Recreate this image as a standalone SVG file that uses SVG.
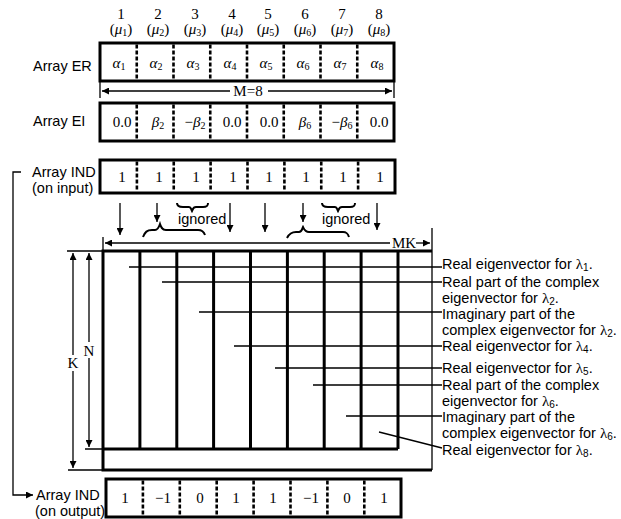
<svg xmlns="http://www.w3.org/2000/svg" width="621" height="519" viewBox="0 0 621 519">
<style>
.lab{font-family:"Liberation Sans",Arial,sans-serif;font-size:14.5px;fill:#000}
.ser{font-family:"Liberation Serif","Times New Roman",serif;font-size:15px;fill:#000}
.it{font-style:italic}
.box{fill:none;stroke:#000;stroke-width:3}
.div{stroke:#000;stroke-width:2.6;stroke-dasharray:4 2}
.thin{fill:none;stroke:#000;stroke-width:1.3}
.thick{fill:none;stroke:#000;stroke-width:3}
.brace{fill:none;stroke:#000;stroke-width:2}
</style>
<defs>
<marker id="ah" viewBox="0 0 10 10" refX="10" refY="5" markerWidth="7" markerHeight="7" markerUnits="userSpaceOnUse" orient="auto"><path d="M0,0 L10,5 L0,10 z" fill="#000"/></marker>
</defs>

<g id="headers" class="ser" text-anchor="middle">
<text x="121" y="19">1</text><text x="158" y="19">2</text><text x="195" y="19">3</text><text x="232" y="19">4</text>
<text x="268" y="19">5</text><text x="305" y="19">6</text><text x="342" y="19">7</text><text x="379" y="19">8</text>
<text x="121" y="34">(<tspan class="it">μ</tspan><tspan font-size="10" dy="2">1</tspan><tspan dy="-2">)</tspan></text>
<text x="158" y="34">(<tspan class="it">μ</tspan><tspan font-size="10" dy="2">2</tspan><tspan dy="-2">)</tspan></text>
<text x="195" y="34">(<tspan class="it">μ</tspan><tspan font-size="10" dy="2">3</tspan><tspan dy="-2">)</tspan></text>
<text x="232" y="34">(<tspan class="it">μ</tspan><tspan font-size="10" dy="2">4</tspan><tspan dy="-2">)</tspan></text>
<text x="268" y="34">(<tspan class="it">μ</tspan><tspan font-size="10" dy="2">5</tspan><tspan dy="-2">)</tspan></text>
<text x="305" y="34">(<tspan class="it">μ</tspan><tspan font-size="10" dy="2">6</tspan><tspan dy="-2">)</tspan></text>
<text x="342" y="34">(<tspan class="it">μ</tspan><tspan font-size="10" dy="2">7</tspan><tspan dy="-2">)</tspan></text>
<text x="379" y="34">(<tspan class="it">μ</tspan><tspan font-size="10" dy="2">8</tspan><tspan dy="-2">)</tspan></text>
</g>

<g id="array-er">
<text class="lab" x="33" y="71">Array ER</text>
<rect class="box" x="100" y="43" width="294" height="38"/>
<path class="div" d="M136.75,44.5V79.5M173.5,44.5V79.5M210.25,44.5V79.5M247,44.5V79.5M283.75,44.5V79.5M320.5,44.5V79.5M357.25,44.5V79.5"/>
<g class="ser" text-anchor="middle">
<text x="119" y="68"><tspan class="it">α</tspan><tspan font-size="10" dy="2">1</tspan></text>
<text x="156" y="68"><tspan class="it">α</tspan><tspan font-size="10" dy="2">2</tspan></text>
<text x="193" y="68"><tspan class="it">α</tspan><tspan font-size="10" dy="2">3</tspan></text>
<text x="230" y="68"><tspan class="it">α</tspan><tspan font-size="10" dy="2">4</tspan></text>
<text x="266" y="68"><tspan class="it">α</tspan><tspan font-size="10" dy="2">5</tspan></text>
<text x="303" y="68"><tspan class="it">α</tspan><tspan font-size="10" dy="2">6</tspan></text>
<text x="340" y="68"><tspan class="it">α</tspan><tspan font-size="10" dy="2">7</tspan></text>
<text x="377" y="68"><tspan class="it">α</tspan><tspan font-size="10" dy="2">8</tspan></text>
</g>
</g>

<g id="dim-m">
<path class="thin" d="M100,82V98M394,82V98"/>
<path class="thin" d="M230,91H102" marker-end="url(#ah)"/>
<path class="thin" d="M268,91H392" marker-end="url(#ah)"/>
<text class="ser" x="248" y="96" text-anchor="middle">M=8</text>
</g>

<g id="array-ei">
<text class="lab" x="33" y="126">Array EI</text>
<rect class="box" x="100" y="103" width="294" height="38"/>
<path class="div" d="M136.75,104.5V139.5M173.5,104.5V139.5M210.25,104.5V139.5M247,104.5V139.5M283.75,104.5V139.5M320.5,104.5V139.5M357.25,104.5V139.5"/>
<g class="ser" text-anchor="middle">
<text x="122" y="127">0.0</text>
<text x="158" y="127"><tspan class="it">β</tspan><tspan font-size="10" dy="2">2</tspan></text>
<text x="195" y="127">−<tspan class="it">β</tspan><tspan font-size="10" dy="2">2</tspan></text>
<text x="232" y="127">0.0</text>
<text x="269" y="127">0.0</text>
<text x="305" y="127"><tspan class="it">β</tspan><tspan font-size="10" dy="2">6</tspan></text>
<text x="342" y="127">−<tspan class="it">β</tspan><tspan font-size="10" dy="2">6</tspan></text>
<text x="379" y="127">0.0</text>
</g>
</g>

<g id="array-ind-in">
<text class="lab" x="32" y="177">Array IND</text>
<text class="lab" x="32" y="193">(on input)</text>
<rect class="box" x="100" y="160" width="295" height="33"/>
<path class="div" d="M136.9,161.5V191.5M173.75,161.5V191.5M210.6,161.5V191.5M247.5,161.5V191.5M284.4,161.5V191.5M321.25,161.5V191.5M358.1,161.5V191.5"/>
<g class="ser" text-anchor="middle">
<text x="122" y="182">1</text><text x="159" y="182">1</text><text x="196" y="182">1</text><text x="233" y="182">1</text>
<text x="269" y="182">1</text><text x="306" y="182">1</text><text x="343" y="182">1</text><text x="380" y="182">1</text>
</g>
</g>

<g id="ignored">
<path class="brace" d="M177,203C177,206 179,207 183,207L189,207C191,207 191,209 192,211C193,209 193,207 196,207L203,207C207,207 208,206 208,203"/>
<path class="brace" d="M322,203C322,206 324,207 328,207L335,207C337,207 337,209 338,211C339,209 339,207 342,207L350,207C354,207 355,206 355,203"/>
<text class="lab" x="178" y="224">ignored</text>
<text class="lab" x="322" y="224">ignored</text>
<path class="brace" d="M143,237C145,232 147,230 152,230L155,230C158,230 159,227 160,224C161,227 162,230 166,230L198,230C202,230 204,232 205,235"/>
<path class="brace" d="M287,238C289,234 291,232 296,232L299,232C302,232 302,229 303,227C304,229 305,232 309,232L343,232C347,232 348,234 349,237"/>
</g>

<g id="connectors">
<path class="thin" d="M120,203V235" marker-end="url(#ah)"/>
<path class="thin" d="M157,203V222" marker-end="url(#ah)"/>
<path class="thin" d="M230,203V232" marker-end="url(#ah)"/>
<path class="thin" d="M265,203V232" marker-end="url(#ah)"/>
<path class="thin" d="M303,203V222" marker-end="url(#ah)"/>
<path class="thin" d="M377,203V230" marker-end="url(#ah)"/>
<path class="thin" d="M21,172H13V495H33" marker-end="url(#ah)"/>
<path class="thin" d="M129,267H442M162,282H442M199,312H442M234,346H442M275,368H442M313,385H442M346,416H442M379,432L442,448"/>
</g>

<g id="matrix">
<path class="thin" d="M103,237V251M432,228V470"/>
<path class="thin" d="M390,243H105" marker-end="url(#ah)"/>
<path class="thin" d="M416,243H430" marker-end="url(#ah)"/>
<text class="ser" x="404" y="248" text-anchor="middle">MK</text>
<path class="thick" d="M432,251H103V470H432"/>
<path class="thick" d="M103,449H398M139.9,251V449M176.8,251V449M213.6,251V449M250.5,251V449M287.4,251V449M324.2,251V449M361.1,251V449M398,251V449"/>
<path class="thin" d="M67,251H103M85,449H103M68,470H103"/>
<path class="thin" d="M73,355V253" marker-end="url(#ah)"/>
<path class="thin" d="M73,371V468" marker-end="url(#ah)"/>
<text class="ser" x="73" y="368" text-anchor="middle">K</text>
<path class="thin" d="M89,342V253" marker-end="url(#ah)"/>
<path class="thin" d="M89,358V447" marker-end="url(#ah)"/>
<text class="ser" x="89" y="356" text-anchor="middle">N</text>
</g>

<g id="labels" class="lab">
<text x="442" y="269">Real eigenvector for <tspan class="ser">λ</tspan><tspan font-size="10" dy="2">1</tspan><tspan dy="-2">.</tspan></text>
<text x="442" y="287">Real part of the complex</text>
<text x="442" y="303">eigenvector for <tspan class="ser">λ</tspan><tspan font-size="10" dy="2">2</tspan><tspan dy="-2">.</tspan></text>
<text x="442" y="319">Imaginary part of the</text>
<text x="442" y="335">complex eigenvector for <tspan class="ser">λ</tspan><tspan font-size="10" dy="2">2</tspan><tspan dy="-2">.</tspan></text>
<text x="442" y="351">Real eigenvector for <tspan class="ser">λ</tspan><tspan font-size="10" dy="2">4</tspan><tspan dy="-2">.</tspan></text>
<text x="442" y="373">Real eigenvector for <tspan class="ser">λ</tspan><tspan font-size="10" dy="2">5</tspan><tspan dy="-2">.</tspan></text>
<text x="442" y="390">Real part of the complex</text>
<text x="442" y="406">eigenvector for <tspan class="ser">λ</tspan><tspan font-size="10" dy="2">6</tspan><tspan dy="-2">.</tspan></text>
<text x="442" y="422">Imaginary part of the</text>
<text x="442" y="438">complex eigenvector for <tspan class="ser">λ</tspan><tspan font-size="10" dy="2">6</tspan><tspan dy="-2">.</tspan></text>
<text x="442" y="455">Real eigenvector for <tspan class="ser">λ</tspan><tspan font-size="10" dy="2">8</tspan><tspan dy="-2">.</tspan></text>
</g>

<g id="array-ind-out">
<text class="lab" x="36" y="500">Array IND</text>
<text class="lab" x="35" y="516">(on output)</text>
<rect class="box" x="106" y="479" width="295" height="38"/>
<path class="div" d="M142.9,480.5V515.5M179.8,480.5V515.5M216.7,480.5V515.5M253.6,480.5V515.5M290.5,480.5V515.5M327.4,480.5V515.5M364.3,480.5V515.5"/>
<g class="ser" text-anchor="middle">
<text x="125" y="503">1</text><text x="163" y="503">−1</text><text x="200" y="503">0</text><text x="236" y="503">1</text>
<text x="273" y="503">1</text><text x="311" y="503">−1</text><text x="347" y="503">0</text><text x="384" y="503">1</text>
</g>
</g>
</svg>
